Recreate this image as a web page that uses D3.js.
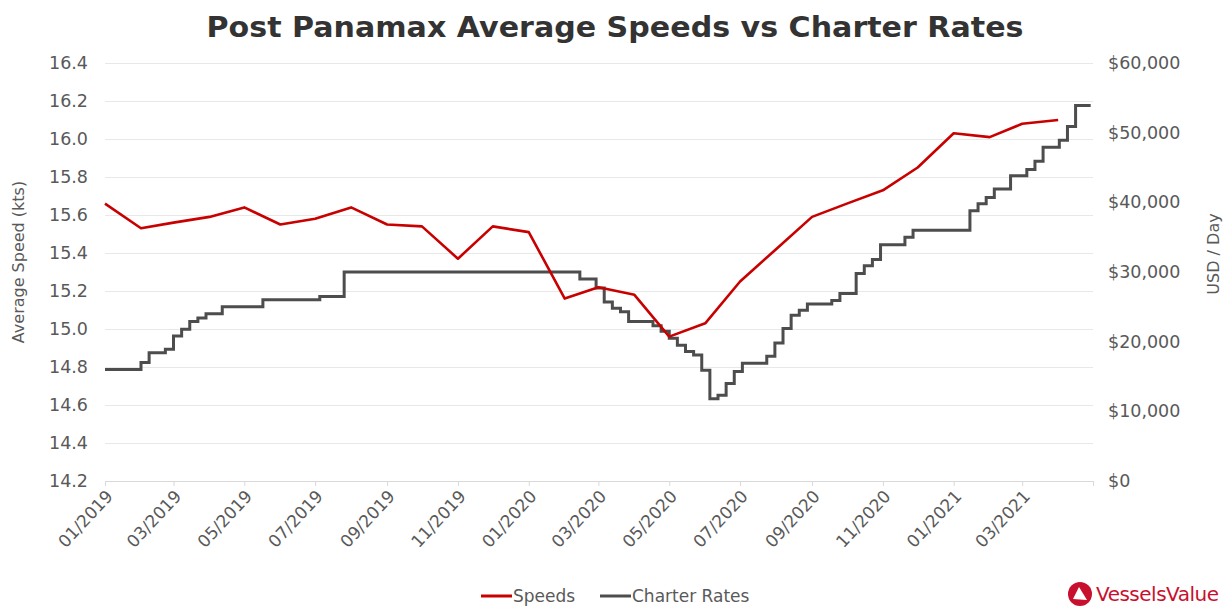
<!DOCTYPE html>
<html>
<head>
<meta charset="utf-8">
<script src="https://cdn.jsdelivr.net/npm/d3@7"></script>
<style>
  body { margin: 0; background: #fff; }
  text { font-family: "DejaVu Sans", Verdana, sans-serif; }
</style>
</head>
<body>
<div id="chart"></div>
<script>

var width = 1224,
    height = 607;
var margin = {top: 63, left: 105, bottom: 126, right: 131};

// monthly average speeds (kts)
var speedMonths = ["2019-01","2019-02","2019-03","2019-04","2019-05","2019-06","2019-07","2019-08","2019-09","2019-10","2019-11","2019-12",
                   "2020-01","2020-02","2020-03","2020-04","2020-05","2020-06","2020-07","2020-08","2020-09","2020-10","2020-11","2020-12",
                   "2021-01","2021-02","2021-03","2021-04"];
var speedValues = [15.66,15.53,15.56,15.59,15.64,15.55,15.58,15.64,15.55,15.54,15.37,15.54,
                   15.51,15.16,15.22,15.18,14.96,15.03,15.25,15.42,15.59,15.66,15.73,15.85,
                   16.03,16.01,16.08,16.10];

// charter rates, USD/day (dates where the weekly rate changes)
var rateDates = ["2019-01-01","2019-02-01","2019-02-08","2019-02-22","2019-03-01","2019-03-08","2019-03-15","2019-03-22","2019-03-29","2019-04-12","2019-05-17","2019-07-05","2019-07-26",
                 "2020-02-14","2020-02-28","2020-03-06","2020-03-13","2020-03-20","2020-03-27","2020-04-17","2020-04-24","2020-05-01","2020-05-08","2020-05-15","2020-05-22","2020-05-29",
                 "2020-06-05","2020-06-12","2020-06-19","2020-06-26","2020-07-03","2020-07-24","2020-07-31","2020-08-07","2020-08-14","2020-08-21","2020-08-28","2020-09-18","2020-09-25",
                 "2020-10-09","2020-10-16","2020-10-23","2020-10-30","2020-11-20","2020-11-27",
                 "2021-01-15","2021-01-22","2021-01-29","2021-02-05","2021-02-19","2021-03-05","2021-03-12","2021-03-19","2021-04-02","2021-04-09","2021-04-16","2021-04-29"];
var rateValues = [16000,17000,18400,18900,20800,21800,22900,23400,24000,25000,26000,26500,30000,
                  29000,27700,25700,24800,24300,22900,22300,21500,20500,19500,18600,18100,15900,
                  11800,12300,14000,15700,16900,17900,19800,21900,23800,24500,25400,25900,26900,
                  29800,30900,31800,33900,35000,36000,
                  38800,39800,40700,41900,43800,44700,45900,47900,48900,50900,53900,53900];

var leftTicks = [14.2,14.4,14.6,14.8,15.0,15.2,15.4,15.6,15.8,16.0,16.2,16.4];
var rightTicks = [0,10000,20000,30000,40000,50000,60000];
var xTickLabels = ["01/2019","03/2019","05/2019","07/2019","09/2019","11/2019","01/2020","03/2020","05/2020","07/2020","09/2020","11/2020","01/2021","03/2021",""];
var xTickDates = ["2019-01-01","2019-03-01","2019-05-01","2019-07-01","2019-09-01","2019-11-01","2020-01-01","2020-03-01","2020-05-01","2020-07-01","2020-09-01","2020-11-01","2021-01-01","2021-03-01","2021-05-01"];

var parseDay = d3.timeParse("%Y-%m-%d"),
    parseMonth = d3.timeParse("%Y-%m");

var speeds = speedMonths.map(function(m, i) { return {date: parseMonth(m), value: speedValues[i]}; });
var rates = rateDates.map(function(d, i) { return {date: parseDay(d), value: rateValues[i]}; });
var tickDates = xTickDates.map(parseDay);

var x = d3.scaleTime()
    .domain([parseDay("2019-01-01"), parseDay("2021-05-01")])
    .range([margin.left, width - margin.right]);

var yLeft = d3.scaleLinear()
    .domain([14.2, 16.4])
    .range([height - margin.bottom, margin.top]);

var yRight = d3.scaleLinear()
    .domain([0, 60000])
    .range([height - margin.bottom, margin.top]);

var svg = d3.select("#chart").append("svg")
    .attr("width", width)
    .attr("height", height);

svg.append("rect").attr("width", width).attr("height", height).attr("fill", "#fff");

// title
svg.append("text")
    .attr("x", 615)
    .attr("y", 37)
    .attr("text-anchor", "middle")
    .attr("font-size", 29)
    .attr("font-weight", "bold")
    .attr("fill", "#333")
    .attr("textLength", 817)
    .attr("lengthAdjust", "spacingAndGlyphs")
    .text("Post Panamax Average Speeds vs Charter Rates");

// gridlines (from left axis)
svg.append("g")
  .selectAll("line")
  .data(leftTicks)
  .enter().append("line")
    .attr("x1", margin.left)
    .attr("x2", width - margin.right)
    .attr("y1", function(d) { return Math.round(yLeft(d)) + 0.5; })
    .attr("y2", function(d) { return Math.round(yLeft(d)) + 0.5; })
    .attr("stroke", "#e8e8e8")
    .attr("stroke-width", 1.2);

// left axis
var leftAxis = svg.append("g")
    .attr("transform", "translate(" + margin.left + ",0)")
    .call(d3.axisLeft(yLeft).tickValues(leftTicks).tickFormat(d3.format(".1f")).tickSize(0).tickPadding(17));
leftAxis.select(".domain").remove();
leftAxis.selectAll("text").attr("font-size", 17.5).attr("fill", "#595959").attr("font-family", "DejaVu Sans, sans-serif");

// right axis
var rightAxis = svg.append("g")
    .attr("transform", "translate(" + (width - margin.right) + ",0)")
    .call(d3.axisRight(yRight).tickValues(rightTicks).tickFormat(function(d) { return "$" + d3.format(",")(d); }).tickSize(0).tickPadding(15));
rightAxis.select(".domain").remove();
rightAxis.selectAll("text").attr("font-size", 17.5).attr("fill", "#595959").attr("font-family", "DejaVu Sans, sans-serif");

// x axis
var xAxis = svg.append("g")
    .attr("transform", "translate(0," + (height - margin.bottom) + ")")
    .call(d3.axisBottom(x).tickValues(tickDates)
      .tickFormat(function(d, i) { return xTickLabels[i]; })
      .tickSize(5));
xAxis.select(".domain").attr("stroke", "#d9d9d9");
xAxis.selectAll(".tick line").attr("stroke", "#d9d9d9");
xAxis.selectAll("text")
    .attr("font-size", 17)
    .attr("fill", "#595959")
    .attr("font-family", "DejaVu Sans, sans-serif")
    .attr("text-anchor", "end")
    .attr("dy", "0.35em")
    .attr("transform", "translate(4,12) rotate(-47)")
    .attr("x", 0)
    .attr("y", 0);

// axis titles
svg.append("text")
    .attr("transform", "translate(24,262) rotate(-90)")
    .attr("text-anchor", "middle")
    .attr("font-size", 16)
    .attr("fill", "#595959")
    .text("Average Speed (kts)");

svg.append("text")
    .attr("transform", "translate(1219,254) rotate(-90)")
    .attr("text-anchor", "middle")
    .attr("font-size", 16)
    .attr("fill", "#595959")
    .text("USD / Day");

// charter rates (step line)
var rateLine = d3.line()
    .curve(d3.curveStepAfter)
    .x(function(d) { return x(d.date); })
    .y(function(d) { return yRight(d.value); });

svg.append("path")
    .datum(rates)
    .attr("fill", "none")
    .attr("stroke", "#4d4d4d")
    .attr("stroke-width", 3)
    .attr("d", rateLine);

// speeds
var speedLine = d3.line()
    .x(function(d) { return x(d.date); })
    .y(function(d) { return yLeft(d.value); });

svg.append("path")
    .datum(speeds)
    .attr("fill", "none")
    .attr("stroke", "#c80000")
    .attr("stroke-width", 2.6)
    .attr("stroke-linejoin", "round")
    .attr("d", speedLine);

// legend
var legend = svg.append("g").attr("transform", "translate(0,596)");
var legendItems = [{name: "Speeds", color: "#c80000", x: 481}, {name: "Charter Rates", color: "#4d4d4d", x: 600}];
legendItems.forEach(function(it) {
  legend.append("line")
      .attr("x1", it.x).attr("x2", it.x + 31)
      .attr("y1", 0).attr("y2", 0)
      .attr("stroke", it.color)
      .attr("stroke-width", 3);
  legend.append("text")
      .attr("x", it.x + 32)
      .attr("y", 0)
      .attr("dy", "0.35em")
      .attr("font-size", 17)
      .attr("fill", "#595959")
      .text(it.name);
});

// logo
var logo = svg.append("g").attr("transform", "translate(1080,594)");
logo.append("circle").attr("r", 12).attr("fill", "#c8102e");
logo.append("path")
    .attr("d", "M-1,-7 L7,6 L-7,5 Z")
    .attr("fill", "#fff");
svg.append("text")
    .attr("x", 1096)
    .attr("y", 601)
    .attr("font-size", 20)
    .attr("fill", "#c8102e")
    .attr("font-family", "Roboto, sans-serif")
    .attr("letter-spacing", -0.5)
    .text("VesselsValue");

</script>
</body>
</html>
